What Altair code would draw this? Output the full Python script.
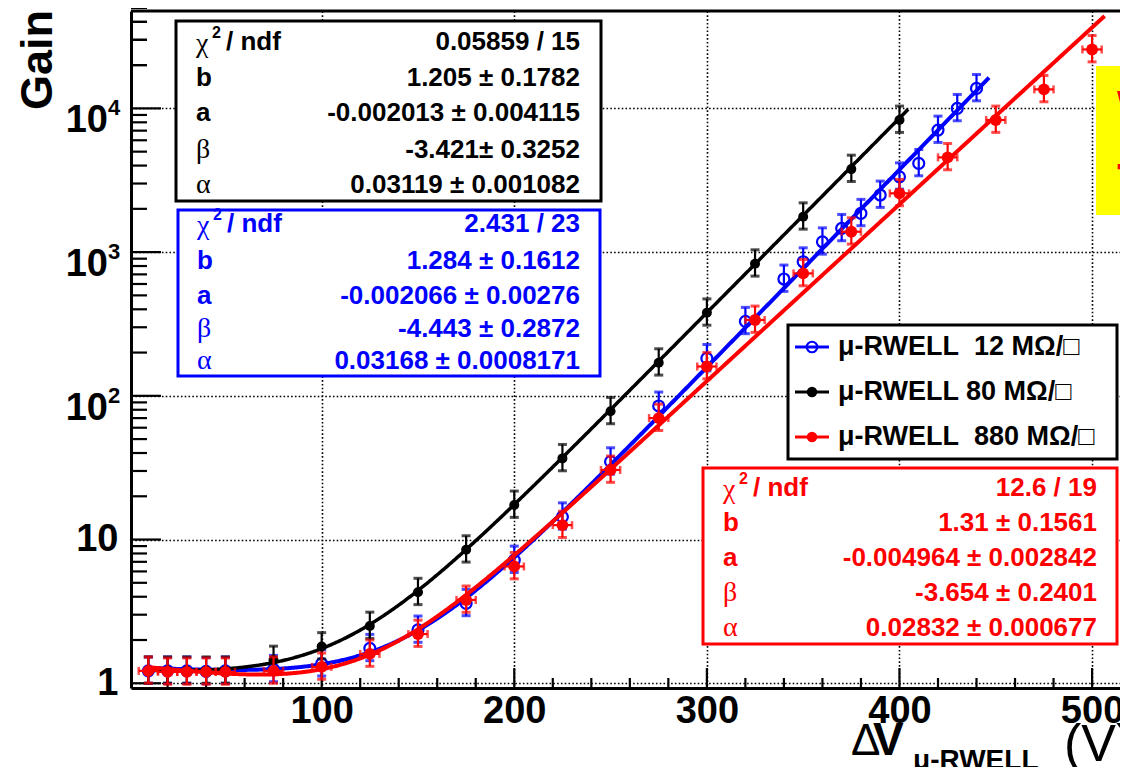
import altair as alt
import pandas as pd

# ---------------- data ----------------
V_12 = [10, 20, 30, 40, 50, 75, 100, 125, 150, 175, 200, 225, 250, 275, 300,
        320, 340, 350, 360, 370, 380, 390, 400, 410, 420, 430, 440]
GAIN_12 = [1.22, 1.22, 1.22, 1.21, 1.22, 1.25, 1.37, 1.75, 2.35, 3.6, 7.2, 14.4, 34.8, 85, 182,
           330, 650, 857, 1180, 1463, 1862, 2496, 3343, 4142, 7066, 10000, 13770]

V_80 = [10, 20, 30, 40, 50, 75, 100, 125, 150, 175, 200, 225, 250, 275, 300, 325, 350, 375, 400]
GAIN_80 = [1.22, 1.22, 1.22, 1.22, 1.22, 1.45, 1.8, 2.5, 4.3, 8.5, 17.4, 36.7, 78, 170, 378,
           830, 1762, 3780, 8300]

V_880 = [10, 20, 30, 40, 50, 75, 100, 125, 150, 175, 200, 225, 250, 275, 300, 325, 350, 375,
         400, 425, 450, 475, 500]
GAIN_880 = [1.22, 1.2, 1.2, 1.2, 1.2, 1.22, 1.3, 1.6, 2.2, 3.8, 6.5, 12.6, 30.5, 70, 160, 337,
            711, 1386, 2564, 4560, 8300, 13560, 25700]

ERR_UP = 0.25      # relative error bar size (upper)
ERR_DN = 0.18      # relative error bar size (lower)
XERR_880 = 5       # horizontal error of the 880 MOhm points (V)

# fit parameters (G = exp(alpha*V + beta) + a*V + b), as printed in the stat boxes
FIT_12 = dict(alpha=0.03168, beta=-4.443, a=-0.002066, b=1.284, vmax=447)
FIT_80 = dict(alpha=0.03119, beta=-3.421, a=-0.002013, b=1.205, vmax=405)
FIT_880 = dict(alpha=0.02832, beta=-3.654, a=-0.004964, b=1.31, vmax=507)

STAT_LABELS = ["chi", "b", "a", "β", "α"]
STAT_80 = ["0.05859 / 15", "1.205 ± 0.1782", "-0.002013 ± 0.004115", "-3.421± 0.3252", "0.03119 ± 0.001082"]
STAT_12 = ["2.431 / 23", "1.284 ± 0.1612", "-0.002066 ± 0.00276", "-4.443 ± 0.2872", "0.03168 ± 0.0008171"]
STAT_880 = ["12.6 / 19", "1.31 ± 0.1561", "-0.004964 ± 0.002842", "-3.654 ± 0.2401", "0.02832 ± 0.000677"]

NB = "\u00a0"
LEGEND = [f"μ-RWELL{NB}{NB}12 MΩ/□", "μ-RWELL 80 MΩ/□", f"μ-RWELL{NB}{NB}880 MΩ/□"]

X_MAJOR = [100, 200, 300, 400, 500]
Y_MAJOR = [1, 10, 100, 1000, 10000]
Y_POW = [(100, "2"), (1000, "3"), (10000, "4")]

# ---------------- style ----------------
FONT = "Liberation Sans"
SYM = "Liberation Serif"
BLUE, RED, BLACK = "#0000ff", "#ff0000", "#000000"
W, H = 989, 677
X0, Y0 = 131, 11   # page position of plot origin, to place annotations

xs = alt.Scale(domain=[1, 514.5], nice=False, zero=False)
ys = alt.Scale(type="log", domain=[0.927, 47600], nice=False)

GRID = dict(grid=True, gridColor="black", gridDash=[1.6, 2.2], gridWidth=1.6, gridOpacity=1)

x_axis = alt.Axis(values=X_MAJOR, format="d", **GRID,
                  ticks=False, domain=True, domainColor="black", domainWidth=3,
                  labelFont=FONT, labelFontSize=38, labelFontWeight="bold", labelColor="black",
                  labelPadding=4, labelOverlap=False, labelFlush=False, title=None)
y_axis = alt.Axis(values=Y_MAJOR, **GRID,
                  ticks=False, domain=True, domainColor="black", domainWidth=3,
                  labelFont=FONT, labelFontSize=38, labelFontWeight="bold", labelColor="black",
                  labelPadding=13, labelOverlap=False,
                  labelExpr="datum.value == 1 ? '1' : (datum.value == 10 ? '10' : '')", title=None)


def xe(f):
    return alt.X(f, type="quantitative", scale=xs, axis=x_axis)


def ye(f):
    return alt.Y(f, type="quantitative", scale=ys, axis=y_axis)


ONE = pd.DataFrame({"k": [0]})


def txt(s, px, py, size, color=BLACK, weight="bold", font=FONT, align="left",
        baseline="middle", angle=0, clip=False):
    return alt.Chart(ONE).mark_text(
        text=s, font=font, fontSize=size, fontWeight=weight, color=color, align=align,
        baseline=baseline, angle=angle, clip=clip
    ).encode(x=alt.value(px - X0), y=alt.value(py - Y0))


def box(x0, y0, x1, y1, stroke, fill="white", sw=3):
    return alt.Chart(ONE).mark_rect(fill=fill, stroke=stroke, strokeWidth=sw).encode(
        x=alt.value(x0 - X0), x2=alt.value(x1 - X0), y=alt.value(y0 - Y0), y2=alt.value(y1 - Y0))


def fit_layer(p, color, width):
    expr = f"exp({p['alpha']}*datum.V + ({p['beta']})) + ({p['a']})*datum.V + {p['b']}"
    return alt.Chart(alt.sequence(10, p["vmax"], 0.5, as_="V")).transform_calculate(G=expr).mark_line(
        color=color, strokeWidth=width, clip=True
    ).encode(x=xe("V"), y=ye("G"))


def points_layers(v, g, color, filled, size, xerr=0):
    df = pd.DataFrame({"V": v, "G": g})
    df["lo"] = df["G"] * (1 - ERR_DN)
    df["hi"] = df["G"] * (1 + ERR_UP)
    df["xl"] = df["V"] - xerr
    df["xh"] = df["V"] + xerr
    base = alt.Chart(df)
    out = [
        base.mark_rule(color=color, strokeWidth=2.2, clip=True).encode(x=xe("V"), y=ye("lo"), y2="hi"),
        base.mark_tick(color=color, orient="horizontal", size=9, thickness=3, clip=True).encode(x=xe("V"), y=ye("lo")),
        base.mark_tick(color=color, orient="horizontal", size=9, thickness=3, clip=True).encode(x=xe("V"), y=ye("hi")),
    ]
    if xerr:
        out += [
            base.mark_rule(color=color, strokeWidth=2.2, clip=True).encode(x=xe("xl"), x2="xh", y=ye("G")),
            base.mark_tick(color=color, orient="vertical", size=8, thickness=2.5, clip=True).encode(x=xe("xl"), y=ye("G")),
            base.mark_tick(color=color, orient="vertical", size=8, thickness=2.5, clip=True).encode(x=xe("xh"), y=ye("G")),
        ]
    out.append(base.mark_point(shape="circle", filled=filled, color=color, size=size, strokeWidth=2.2,
                               opacity=1, clip=True).encode(x=xe("V"), y=ye("G")))
    return out


# inward ticks (ROOT style)
y_minor = [m * 10 ** e for e in range(0, 5) for m in range(2, 10)] + [20000, 30000, 40000]
x_minor = [v for v in range(20, 515, 20) if v % 100 != 0]
tick_layers = [
    alt.Chart(pd.DataFrame({"t": Y_MAJOR})).mark_rule(color=BLACK, strokeWidth=2.2).encode(
        y=ye("t"), x=alt.value(0), x2=alt.value(30)),
    alt.Chart(pd.DataFrame({"t": y_minor})).mark_rule(color=BLACK, strokeWidth=2.2).encode(
        y=ye("t"), x=alt.value(0), x2=alt.value(16)),
    alt.Chart(pd.DataFrame({"t": X_MAJOR})).mark_rule(color=BLACK, strokeWidth=2.2).encode(
        x=xe("t"), y=alt.value(H), y2=alt.value(H - 20)),
    alt.Chart(pd.DataFrame({"t": x_minor})).mark_rule(color=BLACK, strokeWidth=2.2).encode(
        x=xe("t"), y=alt.value(H), y2=alt.value(H - 10)),
    alt.Chart(ONE).mark_rule(color=BLACK, strokeWidth=3).encode(
        x=alt.value(0), x2=alt.value(W), y=alt.value(0)),
]

# y labels 10^2..10^4 with superscript exponent
sup_df = pd.DataFrame({"t": [p[0] for p in Y_POW], "e": [p[1] for p in Y_POW]})
ylab_layers = [
    alt.Chart(sup_df).mark_text(text="10", font=FONT, fontSize=38, fontWeight="bold", color=BLACK,
                                align="right", baseline="alphabetic", dy=24).encode(
        y=ye("t"), x=alt.value(108 - X0)),
    alt.Chart(sup_df).mark_text(font=FONT, fontSize=22, fontWeight="bold", color=BLACK,
                                align="left", baseline="alphabetic", dy=7).encode(
        y=ye("t"), x=alt.value(108 - X0), text="e:N"),
]

# data + fits (ROOT drawing order: graph then its fit)
data_layers = (
    points_layers(V_12, GAIN_12, BLUE, False, 120)
    + [fit_layer(FIT_12, BLUE, 4)]
    + points_layers(V_80, GAIN_80, BLACK, True, 100)
    + [fit_layer(FIT_80, BLACK, 3.5)]
    + points_layers(V_880, GAIN_880, RED, True, 140, xerr=XERR_880)
    + [fit_layer(FIT_880, RED, 4)]
)


def stat_box(x0, y0, x1, y1, color, rows_y, lab_x, val_x, values):
    out = [box(x0, y0, x1, y1, color)]
    for lab, ry, val in zip(STAT_LABELS, rows_y, values):
        if lab == "chi":
            out.append(txt("χ", lab_x, ry + 2, 28, color, weight="normal", font=SYM))
            out.append(txt("2", lab_x + 16, ry - 9, 16, color))
            out.append(txt("/ ndf", lab_x + 30, ry, 26, color))
        elif lab in ("β", "α"):
            out.append(txt(lab, lab_x, ry, 28, color, weight="normal", font=SYM))
        else:
            out.append(txt(lab, lab_x, ry, 26, color))
        out.append(txt(val, val_x, ry, 26, color, align="right"))
    return out


stats_layers = (
    stat_box(176, 21, 601, 201, BLACK, [42, 78, 113, 150, 185], 196, 580, STAT_80)
    + stat_box(178, 210, 600, 376, BLUE, [224, 261, 296, 329, 361], 197, 580, STAT_12)
    + stat_box(703, 468, 1117, 644, RED, [488, 523, 558, 593, 628], 723, 1097, STAT_880)
)

# legend
leg_layers = [box(788, 325, 1117, 459, BLACK)]
leg_rows = [347, 392, 437]
leg_cols = [BLUE, BLACK, RED]
leg_fill = [False, True, True]
for name, ry, c, f in zip(LEGEND, leg_rows, leg_cols, leg_fill):
    leg_layers.append(alt.Chart(ONE).mark_rule(color=c, strokeWidth=3).encode(
        x=alt.value(795 - X0), x2=alt.value(829 - X0), y=alt.value(ry - Y0)))
    leg_layers.append(alt.Chart(ONE).mark_point(shape="circle", filled=f, color=c, size=110,
                                                strokeWidth=2.2, opacity=1).encode(
        x=alt.value(812 - X0), y=alt.value(ry - Y0)))
    leg_layers.append(txt(name, 838, ry, 27, BLACK))

# titles
title_layers = [
    txt("Gain", 52, 10, 45, angle=270, align="right", baseline="alphabetic"),
    txt("Δ", 851, 755, 44, weight="normal", baseline="alphabetic"),
    txt("V", 873, 755, 46, baseline="alphabetic"),
    txt("μ-RWELL", 913, 769, 28, baseline="alphabetic"),
    txt("(V)", 1064, 761, 52, weight="normal", baseline="alphabetic"),
]

# yellow note at right edge
note_layers = [
    box(1096, 66, 1140, 215, "#ffff00", fill="#ffff00", sw=0),
    txt("W", 1117, 129, 55, RED, baseline="alphabetic", clip=True),
    txt("t", 1117, 193, 55, RED, baseline="alphabetic", clip=True),
]

chart = alt.layer(
    *(tick_layers + data_layers + ylab_layers + stats_layers + leg_layers + title_layers + note_layers)
).properties(
    width=W, height=H,
    padding={"left": 123, "top": 3, "right": 0, "bottom": 79},
    autosize=alt.AutoSizeParams(type="none"),
    background="white",
).configure_view(stroke=None)

chart.save("out.html", embed_options={"renderer": "svg", "actions": False})
